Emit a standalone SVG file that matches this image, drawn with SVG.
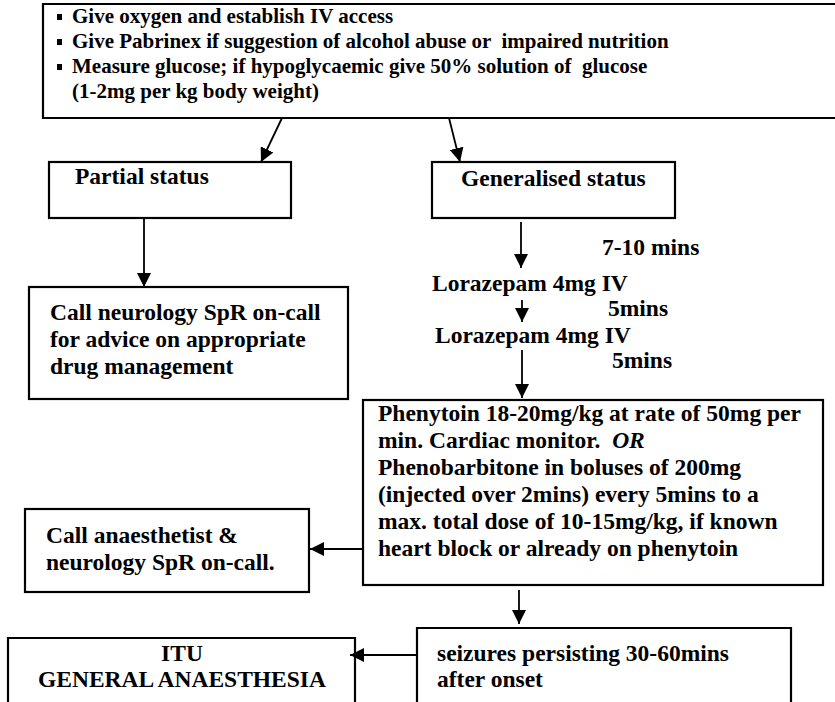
<svg xmlns="http://www.w3.org/2000/svg" width="835" height="702" viewBox="0 0 835 702">
<style>
.box{fill:#fff;stroke:#000;stroke-width:2.2}
.t{font-family:"Liberation Serif","Times New Roman",serif;font-weight:bold;font-size:23.5px;fill:#000;white-space:pre}
.s{font-size:21px}
.c{stroke:#000;stroke-width:1.8;fill:none}
</style>
<defs>
<marker id="ah" viewBox="0 0 14 14" refX="14" refY="7" markerWidth="14" markerHeight="14" markerUnits="userSpaceOnUse" orient="auto">
<path d="M0,0 L14,7 L0,14 Z" fill="#000"/>
</marker>
</defs>
<rect width="835" height="702" fill="#fff"/>
<g id="top">
<path class="box" d="M840,4 H43 V118 H840"/>
<rect x="57" y="14" width="5" height="6" fill="#000"/>
<rect x="57" y="39" width="5" height="6" fill="#000"/>
<rect x="57" y="64" width="5" height="6" fill="#000"/>
<text class="t s" x="72" y="23" xml:space="preserve">Give oxygen and establish IV access</text>
<text class="t s" x="72" y="48" xml:space="preserve">Give Pabrinex if suggestion of alcohol abuse or  impaired nutrition</text>
<text class="t s" x="72" y="73" xml:space="preserve">Measure glucose; if hypoglycaemic give 50% solution of  glucose</text>
<text class="t s" x="72" y="98" xml:space="preserve">(1-2mg per kg body weight)</text>
</g>
<g id="partial">
<rect class="box" x="49" y="162" width="242" height="56"/>
<text class="t" x="75" y="184">Partial status</text>
</g>
<g id="generalised">
<rect class="box" x="432" y="162" width="243" height="56"/>
<text class="t" x="461" y="186">Generalised status</text>
</g>
<g id="neurology">
<rect class="box" x="29" y="287" width="319" height="112"/>
<text class="t" x="50" y="320">Call neurology SpR on-call</text>
<text class="t" x="50" y="347">for advice on appropriate</text>
<text class="t" x="50" y="374">drug management</text>
</g>
<g id="lorazepam">
<text class="t" x="602" y="255">7-10 mins</text>
<text class="t" x="432" y="291">Lorazepam 4mg IV</text>
<text class="t" x="608" y="316">5mins</text>
<text class="t" x="435" y="343">Lorazepam 4mg IV</text>
<text class="t" x="612" y="368">5mins</text>
</g>
<g id="phenytoin">
<rect class="box" x="363" y="400" width="460" height="185"/>
<text class="t" x="378" y="421">Phenytoin 18-20mg/kg at rate of 50mg per</text>
<text class="t" x="378" y="448" xml:space="preserve">min. Cardiac monitor.  <tspan font-style="italic">OR</tspan></text>
<text class="t" x="378" y="475">Phenobarbitone in boluses of 200mg</text>
<text class="t" x="378" y="502">(injected over 2mins) every 5mins to a</text>
<text class="t" x="378" y="529">max. total dose of 10-15mg/kg, if known</text>
<text class="t" x="378" y="556">heart block or already on phenytoin</text>
</g>
<g id="anaesthetist">
<rect class="box" x="25" y="509" width="284" height="83"/>
<text class="t" x="46" y="543">Call anaesthetist &amp;</text>
<text class="t" x="46" y="570">neurology SpR on-call.</text>
</g>
<g id="seizures">
<path class="box" d="M417,710 V628 H791 V710"/>
<text class="t" x="437" y="661">seizures persisting 30-60mins</text>
<text class="t" x="437" y="687">after onset</text>
</g>
<g id="itu">
<path class="box" d="M8,710 V638 H355 V710"/>
<text class="t" x="182" y="661" text-anchor="middle">ITU</text>
<text class="t" x="182" y="687" text-anchor="middle">GENERAL ANAESTHESIA</text>
</g>
<g id="connectors">
<line class="c" x1="282" y1="118" x2="261" y2="162" marker-end="url(#ah)"/>
<line class="c" x1="449" y1="118" x2="460" y2="162" marker-end="url(#ah)"/>
<line class="c" x1="144" y1="218" x2="144" y2="287" marker-end="url(#ah)"/>
<line class="c" x1="521" y1="222" x2="521" y2="268" marker-end="url(#ah)"/>
<line class="c" x1="522" y1="300" x2="522" y2="322" marker-end="url(#ah)"/>
<line class="c" x1="522" y1="350" x2="522" y2="398" marker-end="url(#ah)"/>
<line class="c" x1="363" y1="549" x2="310" y2="549" marker-end="url(#ah)"/>
<line class="c" x1="519" y1="590" x2="519" y2="624" marker-end="url(#ah)"/>
<line class="c" x1="417" y1="655" x2="350" y2="655" marker-end="url(#ah)"/>
</g>
</svg>
